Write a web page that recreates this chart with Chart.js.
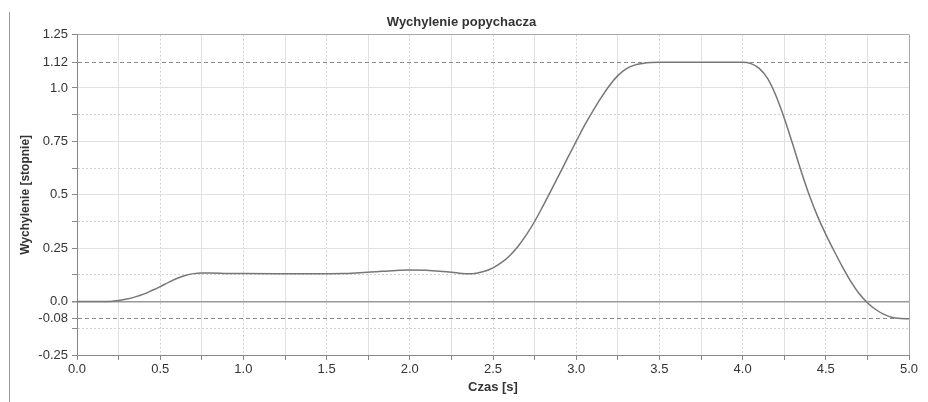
<!DOCTYPE html>
<html>
<head>
<meta charset="utf-8">
<script src="https://cdn.jsdelivr.net/npm/chart.js@4.4.1/dist/chart.umd.min.js"></script>
<style>
  html, body { margin: 0; padding: 0; background: #fff; }
  #wrap { position: relative; width: 928px; height: 402px; }
  #edge { position: absolute; left: 9px; top: 12px; bottom: 0; border-left: 1px solid #9a9a9a; }
  canvas { position: absolute; left: 0; top: 0; }
</style>
</head>
<body>
<div id="wrap">
    <div id="edge"></div>
    <canvas id="chart" width="928" height="402"></canvas>
</div>
<script>
// time [s] and deflection [deg]
const timeValues = [
    0.00, 0.10, 0.20, 0.25, 0.30, 0.35, 0.40, 0.45, 0.50, 0.55, 0.60, 0.65, 0.70, 0.75, 0.80, 0.90,
    1.00, 1.20, 1.40, 1.60, 1.70, 1.80, 1.90, 2.00, 2.10, 2.20, 2.30, 2.35, 2.40, 2.45, 2.50, 2.55,
    2.60, 2.65, 2.70, 2.75, 2.80, 2.85, 2.90, 2.95, 3.00, 3.05, 3.10, 3.15, 3.20, 3.25, 3.30, 3.35,
    3.40, 3.45, 3.50, 3.75, 4.00, 4.05, 4.10, 4.15, 4.20, 4.25, 4.30, 4.35, 4.40, 4.45, 4.50, 4.55,
    4.60, 4.65, 4.70, 4.75, 4.80, 4.85, 4.90, 4.95, 5.00
];
const deflectionValues = [
    0.000, 0.000, 0.001, 0.005, 0.012, 0.022, 0.035, 0.052, 0.070, 0.090, 0.108, 0.122, 0.131, 0.134, 0.134, 0.132,
    0.131, 0.130, 0.130, 0.131, 0.135, 0.140, 0.145, 0.148, 0.147, 0.141, 0.133, 0.130, 0.133, 0.142, 0.158, 0.182,
    0.215, 0.258, 0.312, 0.375, 0.447, 0.522, 0.598, 0.675, 0.750, 0.825, 0.892, 0.955, 1.012, 1.058, 1.090, 1.107,
    1.115, 1.119, 1.120, 1.120, 1.120, 1.114, 1.092, 1.045, 0.965, 0.860, 0.740, 0.615, 0.500, 0.400, 0.315, 0.237,
    0.163, 0.095, 0.038, -0.005, -0.037, -0.060, -0.074, -0.079, -0.080
];

const xTickValues = [0, 0.25, 0.5, 0.75, 1, 1.25, 1.5, 1.75, 2, 2.25, 2.5, 2.75, 3, 3.25, 3.5, 3.75, 4, 4.25, 4.5, 4.75, 5];
const yTickValues = [-0.25, -0.125, -0.08, 0, 0.125, 0.25, 0.375, 0.5, 0.625, 0.75, 0.875, 1.0, 1.12, 1.25];
const yTickLabels = ['-0.25', '', '-0.08', '0.0', '', '0.25', '', '0.5', '', '0.75', '', '1.0', '1.12', '1.25'];
const refLevels = [1.12, -0.08];

const fontFamily = '"Liberation Sans", Arial, sans-serif';
const textColor = '#333';

function isMultiple(v, step) {
    const q = v / step;
    return Math.abs(q - Math.round(q)) < 1e-6;
}

function isRef(v) {
    return refLevels.some(r => Math.abs(r - v) < 1e-6);
}

const chartData = {
    datasets: [{
        label: 'Wychylenie',
        data: timeValues.map((t, i) => ({ x: t, y: deflectionValues[i] })),
        borderColor: '#777',
        borderWidth: 1.5,
        pointRadius: 0,
        fill: false,
        cubicInterpolationMode: 'monotone'
    }]
};

const chart = new Chart(document.getElementById('chart'), {
    type: 'line',
    data: chartData,
    options: {
        responsive: false,
        animation: false,
        devicePixelRatio: 1,
        layout: { padding: { left: 14, right: 19, top: 0, bottom: 3 } },
        plugins: {
            legend: { display: false },
            tooltip: { enabled: false },
            title: {
                display: true,
                text: 'Wychylenie popychacza',
                color: textColor,
                font: { family: fontFamily, size: 13, weight: 'bold' },
                padding: { top: 15, bottom: 4 }
            }
        },
        scales: {
            x: {
                type: 'linear',
                min: 0,
                max: 5,
                afterBuildTicks: s => { s.ticks = xTickValues.map(v => ({ value: v })); },
                afterFit: s => { s.height = 44; },
                ticks: {
                    autoSkip: false,
                    maxRotation: 0,
                    padding: 2,
                    color: textColor,
                    font: { family: fontFamily, size: 13 },
                    callback: v => isMultiple(v, 0.5) ? v.toFixed(1) : ''
                },
                grid: {
                    color: ctx => {
                        const v = ctx.tick.value;
                        if (v === 5) return '#a8a8a8';
                        return isMultiple(v, 0.5) ? '#cfcfcf' : '#e0e0e0';
                    },
                    tickColor: '#888',
                    tickLength: 5,
                    lineWidth: 1
                },
                border: {
                    color: '#888',
                    width: 1,
                    dash: ctx => {
                        if (!ctx.tick) return [];
                        const v = ctx.tick.value;
                        return (isMultiple(v, 0.5) && v !== 0 && v !== 5) ? [2, 2] : [];
                    }
                },
                title: {
                    display: true,
                    text: 'Czas [s]',
                    color: textColor,
                    font: { family: fontFamily, size: 13, weight: 'bold' },
                    padding: { top: 4, bottom: 4 }
                }
            },
            y: {
                type: 'linear',
                min: -0.25,
                max: 1.25,
                afterBuildTicks: s => { s.ticks = yTickValues.map(v => ({ value: v })); },
                afterFit: s => { s.width = 63; },
                ticks: {
                    autoSkip: false,
                    padding: 4,
                    color: textColor,
                    font: { family: fontFamily, size: 13 },
                    callback: v => {
                        const i = yTickValues.findIndex(t => Math.abs(t - v) < 1e-6);
                        return i >= 0 ? yTickLabels[i] : '';
                    }
                },
                grid: {
                    color: ctx => {
                        const v = ctx.tick.value;
                        if (v === 1.25) return '#a8a8a8';
                        if (v === 0) return '#999';
                        if (isRef(v)) return '#8a8a8a';
                        return isMultiple(v, 0.25) ? '#e0e0e0' : '#d2d2d2';
                    },
                    lineWidth: ctx => ctx.tick.value === 0 ? 1.5 : 1,
                    tickColor: '#888',
                    tickLength: 5
                },
                border: {
                    color: '#888',
                    width: 1,
                    dash: ctx => {
                        if (!ctx.tick) return [];
                        const v = ctx.tick.value;
                        if (isRef(v)) return [4, 3];
                        if (v === 0 || v === 1.25 || v === -0.25) return [];
                        return isMultiple(v, 0.25) ? [] : [2, 2];
                    }
                },
                title: {
                    display: true,
                    text: 'Wychylenie [stopnie]',
                    color: textColor,
                    font: { family: fontFamily, size: 12, weight: 'bold' },
                    padding: { top: 4, bottom: 4 }
                }
            }
        }
    }
});
</script>
</body>
</html>
